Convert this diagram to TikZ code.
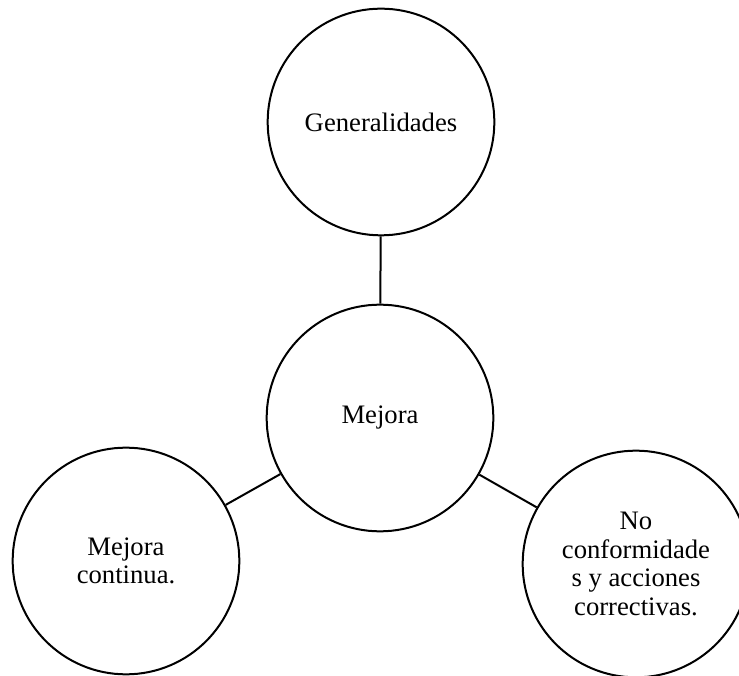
\documentclass[tikz,border=0pt]{standalone}
\usepackage{fontspec}
\setmainfont{Liberation Serif}
\begin{document}
\begin{tikzpicture}[x=0.75pt,y=0.75pt,
    topic/.style={draw,circle,line width=1.5pt,minimum size=170pt,inner sep=0pt,
      align=center,font=\fontsize{20}{21.5}\selectfont}]
      \path[use as bounding box] (0,0) rectangle (739,675);
      \clip (0,0) rectangle (739,675);
      \draw
        (381,553) node[topic] (gen){Generalidades}
        (380,257) node[topic] (mejora){Mejora}
        (126,114) node[topic] (continua){Mejora\\continua.}
        (636,111) node[topic] (noconf){No\\conformidade\\s y acciones\\correctivas.};
      \begin{scope}[-,line width=1.5pt]
        \draw (gen) to (mejora);
        \draw (mejora) to (continua);
        \draw (mejora) to (noconf);
      \end{scope}
    \end{tikzpicture}
\end{document}
